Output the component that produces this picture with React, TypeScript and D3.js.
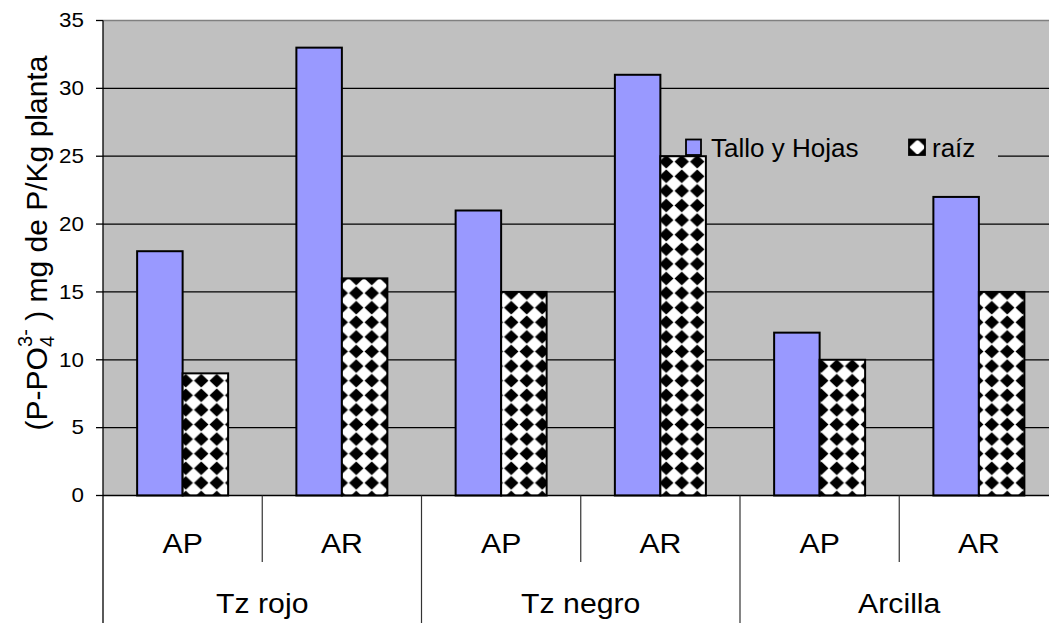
import React, { useEffect } from "react";
import * as d3 from "d3";

// Categories: soil type groups, each split into two treatments
const groups = ["Tz rojo", "Tz negro", "Arcilla"];
const treatments = ["AP", "AR"];
const seriesNames = ["Tallo y Hojas", "raíz"];

// mg de P/Kg planta, ordered group by group, AP then AR
const talloHojas = [18, 33, 21, 31, 12, 22];
const raiz = [9, 16, 15, 25, 10, 15];

const yTicks = [0, 5, 10, 15, 20, 25, 30, 35];

const W = 1049;
const H = 623;
const plotLeft = 103;
const plotRight = 1058.5;
const plotTop = 20.5;
const plotBottom = 495.5;

const BG = "#C0C0C0";
const BLUE = "#9999FF";
const FONT = "'Liberation Sans', Arial, sans-serif";

export default function App() {
  useEffect(() => {
    document.body.style.margin = "0";
  }, []);

  const y = d3.scaleLinear().domain([0, 35]).range([plotBottom, plotTop]);
  const xGroup = d3.scaleBand<string>().domain(groups).range([plotLeft, plotRight]);
  const xTreat = d3
    .scaleBand<string>()
    .domain(treatments)
    .range([0, xGroup.bandwidth()]);
  const xSeries = d3
    .scaleBand<string>()
    .domain(seriesNames)
    .range([0, xTreat.bandwidth()])
    .paddingInner(0)
    .paddingOuter(0.75);

  const rows = groups.flatMap((g, gi) =>
    treatments.map((t, ti) => ({
      group: g,
      treat: t,
      values: [talloHojas[gi * 2 + ti], raiz[gi * 2 + ti]],
    }))
  );

  const stretch = "scale(1.12,1)";

  return (
    <svg width={W} height={H} style={{ display: "block" }} fontFamily={FONT}>
      <defs>
        <pattern id="diamonds" patternUnits="userSpaceOnUse" width={15.5} height={14.6} x={178} y={373.4}>
          <rect width={15.5} height={14.6} fill="#fff" />
          <path d="M7.75,0.6 L15,7.3 L7.75,14 L0.5,7.3 Z" fill="#000" />
        </pattern>
        <pattern id="diamondsKey" patternUnits="userSpaceOnUse" width={15.5} height={14.6} x={902} y={132.6}>
          <rect width={15.5} height={14.6} fill="#fff" />
          <path d="M7.75,0.6 L15,7.3 L7.75,14 L0.5,7.3 Z" fill="#000" />
        </pattern>
      </defs>

      {/* plot area */}
      <rect x={plotLeft} y={plotTop} width={plotRight - plotLeft} height={plotBottom - plotTop} fill={BG} />
      <line x1={plotLeft} x2={plotRight} y1={plotTop} y2={plotTop} stroke="#808080" strokeWidth={1.5} />

      {/* gridlines */}
      {yTicks.slice(1, -1).map((v) => (
        <line key={v} x1={plotLeft} x2={plotRight} y1={y(v)} y2={y(v)} stroke="#000" strokeWidth={1.2} />
      ))}

      {/* legend background */}
      <rect x={680} y={128} width={318} height={30} fill={BG} />

      {/* bars */}
      {rows.map((r) => {
        const x0 = (xGroup(r.group) ?? 0) + (xTreat(r.treat) ?? 0);
        return r.values.map((v, si) => (
          <rect
            key={r.group + r.treat + si}
            x={x0 + (xSeries(seriesNames[si]) ?? 0)}
            y={y(v)}
            width={xSeries.bandwidth()}
            height={y(0) - y(v)}
            fill={si === 0 ? BLUE : "url(#diamonds)"}
            stroke="#000"
            strokeWidth={2}
          />
        ));
      })}

      {/* axes */}
      <line x1={plotLeft} x2={plotLeft} y1={plotTop} y2={H} stroke="#000" strokeWidth={1.3} />
      <line x1={plotLeft} x2={plotRight} y1={plotBottom} y2={plotBottom} stroke="#000" strokeWidth={1.5} />
      {yTicks.map((v) => (
        <g key={v}>
          <line x1={plotLeft - 7} x2={plotLeft} y1={y(v)} y2={y(v)} stroke="#000" strokeWidth={1.3} />
          <text
            x={0}
            y={0}
            transform={`translate(${plotLeft - 19},${y(v)}) ${stretch}`}
            dy="0.34em"
            textAnchor="end"
            fontSize={20}
            fill="#000"
          >
            {v}
          </text>
        </g>
      ))}

      {/* category axis: treatment dividers and labels */}
      {rows.map((r) => {
        const x0 = (xGroup(r.group) ?? 0) + (xTreat(r.treat) ?? 0);
        return (
          <g key={"lab" + r.group + r.treat}>
            {r.treat === "AR" && (
              <line x1={x0} x2={x0} y1={plotBottom} y2={562} stroke="#333" strokeWidth={1.2} />
            )}
            <text
              transform={`translate(${x0 + xTreat.bandwidth() / 2},${552.5}) ${stretch}`}
              textAnchor="middle"
              fontSize={27}
              fill="#000"
            >
              {r.treat}
            </text>
          </g>
        );
      })}
      {groups.map((g) => {
        const gx = xGroup(g) ?? 0;
        return (
          <g key={"grp" + g}>
            <line
              x1={gx + xGroup.bandwidth()}
              x2={gx + xGroup.bandwidth()}
              y1={plotBottom}
              y2={H}
              stroke="#333"
              strokeWidth={1.2}
            />
            <text
              transform={`translate(${gx + xGroup.bandwidth() / 2},${613.3}) ${stretch}`}
              textAnchor="middle"
              fontSize={27}
              fill="#000"
            >
              {g}
            </text>
          </g>
        );
      })}

      {/* y-axis title */}
      <text transform="translate(47,243) rotate(-90)" textAnchor="middle" fontSize={30} fill="#000">
        <tspan>(P-PO</tspan>
        <tspan fontSize={20} dy={7}>4</tspan>
        <tspan fontSize={20} dx={-11} dy={-22}>3-</tspan>
        <tspan dy={15}> ) mg de P/Kg planta</tspan>
      </text>

      {/* legend */}
      <rect x={686} y={139.5} width={15} height={15.5} fill={BLUE} stroke="#000" strokeWidth={1.8} />
      <text x={711} y={156.5} fontSize={26} fill="#000">
        {seriesNames[0]}
      </text>
      <rect x={909} y={139.5} width={16} height={15.5} fill="url(#diamondsKey)" stroke="#000" strokeWidth={1.8} />
      <text x={932} y={156.5} fontSize={26} fill="#000">
        {seriesNames[1]}
      </text>
    </svg>
  );
}
